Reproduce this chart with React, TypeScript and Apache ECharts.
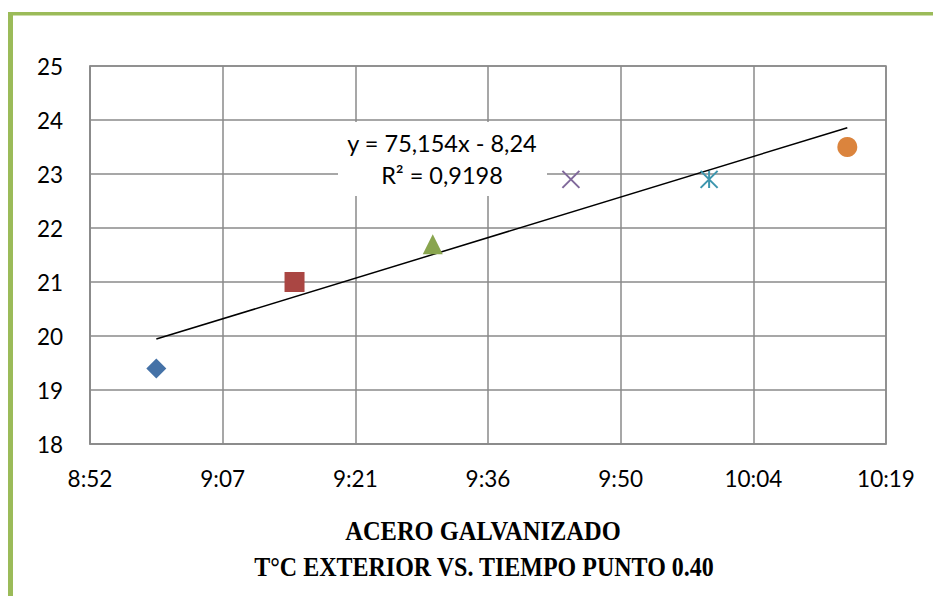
import React, { useEffect, useRef } from "react";
import * as echarts from "echarts";

const pointTimes = ["9:00", "9:15", "9:30", "9:45", "10:00", "10:15"];
const pointTemps = [19.4, 21.0, 21.7, 22.9, 22.9, 23.5];
const pointSymbols = [
  "diamond",
  "rect",
  "triangle",
  "path://M0,0L10,10M10,0L0,10",
  "path://M0,0L10,10M10,0L0,10M5,0L5,10",
  "circle",
];
const pointColors = ["#4572A7", "#AA4643", "#89A54E", "#80699B", "#3D96AE", "#DB843D"];
const strokedSymbol = [false, false, false, true, true, false];

const xMin = 0.37;
const xMax = 0.43;
const xStep = 0.01;
const yMin = 18;
const yMax = 25;
const yStep = 1;

const equationText = "y = 75,154x - 8,24";
const r2Text = "R² = 0,9198";
const titleLine1 = "ACERO GALVANIZADO";
const titleLine2 = "T°C EXTERIOR VS. TIEMPO PUNTO 0.40";

const toDay = (s: string) => {
  const [h, m] = s.split(":").map(Number);
  return (h * 60 + m) / 1440;
};

const fmtTime = (v: number) => {
  const mins = Math.floor(v * 1440 + 1e-6);
  const h = Math.floor(mins / 60);
  const m = mins % 60;
  return `${h}:${m < 10 ? "0" : ""}${m}`;
};

export default function App() {
  const ref = useRef<HTMLDivElement>(null);
  useEffect(() => {
    if (!ref.current) return;
    const chart = echarts.init(ref.current, undefined, { renderer: "svg" });
    const xs = pointTimes.map(toDay);
    const n = xs.length;
    const mx = xs.reduce((a, b) => a + b, 0) / n;
    const my = pointTemps.reduce((a, b) => a + b, 0) / n;
    let sxy = 0,
      sxx = 0;
    xs.forEach((x, i) => {
      sxy += (x - mx) * (pointTemps[i] - my);
      sxx += (x - mx) * (x - mx);
    });
    const slope = sxy / sxx;
    const icpt = my - slope * mx;
    const x0 = xs[0];
    const x1 = xs[n - 1];

    const pointSeries = xs.map((x, i) => ({
      type: "scatter",
      name: pointTimes[i],
      data: [[x, pointTemps[i]]],
      symbol: pointSymbols[i],
      symbolSize: strokedSymbol[i] ? 17 : 20,
      symbolKeepAspect: true,
      itemStyle: strokedSymbol[i]
        ? { color: "rgba(0,0,0,0)", borderColor: pointColors[i], borderWidth: 2, opacity: 1 }
        : { color: pointColors[i], opacity: 1 },
      z: 3,
    }));

    const labelFont = { fontFamily: "Lato", fontSize: 22.5, color: "#000" };

    chart.setOption({
      animation: false,
      grid: {
        left: 90,
        top: 66,
        right: 47,
        bottom: 152,
        show: true,
        borderColor: "#8a8a8a",
        borderWidth: 1.5,
      },
      xAxis: {
        type: "value",
        min: xMin,
        max: xMax,
        interval: xStep,
        axisLine: { show: true, lineStyle: { color: "#8a8a8a", width: 1.5 } },
        axisTick: { show: false },
        splitLine: { show: true, lineStyle: { color: "#8a8a8a", width: 1.5 } },
        axisLabel: {
          ...labelFont,
          margin: 23,
          lineHeight: 22,
          formatter: (v: number) => fmtTime(v),
        },
      },
      yAxis: {
        type: "value",
        min: yMin,
        max: yMax,
        interval: yStep,
        axisLine: { show: true, lineStyle: { color: "#8a8a8a", width: 1.5 } },
        axisTick: { show: false },
        splitLine: { show: true, lineStyle: { color: "#8a8a8a", width: 1.5 } },
        axisLabel: { ...labelFont, margin: 27 },
      },
      series: [
        {
          type: "line",
          name: "Lineal",
          data: [
            [x0, slope * x0 + icpt],
            [x1, slope * x1 + icpt],
          ],
          symbol: "none",
          lineStyle: { color: "#000", width: 1.5 },
          z: 2,
        },
        ...pointSeries,
      ],
      graphic: [
        { type: "rect", shape: { x: 8, y: 12, width: 5, height: 600 }, style: { fill: "#9BBB59" } },
        { type: "rect", shape: { x: 8, y: 12, width: 930, height: 3.5 }, style: { fill: "#9BBB59" } },
        {
          type: "rect",
          shape: { x: 338, y: 122, width: 209, height: 74 },
          style: { fill: "#fff" },
          z: 10,
        },
        {
          type: "text",
          x: 442,
          y: 143,
          z: 11,
          style: {
            text: equationText,
            fontFamily: "Lato",
            fontSize: 23.5,
            fill: "#000",
            align: "center",
            verticalAlign: "middle",
          },
        },
        {
          type: "text",
          x: 442,
          y: 175,
          z: 11,
          style: {
            text: r2Text,
            fontFamily: "Lato",
            fontSize: 23.5,
            fill: "#000",
            align: "center",
            verticalAlign: "middle",
          },
        },
        {
          type: "text",
          x: 483,
          y: 530,
          scaleY: 1.15,
          style: {
            text: titleLine1,
            fontFamily: "Liberation Serif",
            fontWeight: "bold",
            fontSize: 24.5,
            fill: "#000",
            align: "center",
            verticalAlign: "middle",
          },
        },
        {
          type: "text",
          x: 484,
          y: 567,
          scaleY: 1.15,
          style: {
            text: titleLine2,
            fontFamily: "Liberation Serif",
            fontWeight: "bold",
            fontSize: 24,
            fill: "#000",
            align: "center",
            verticalAlign: "middle",
          },
        },
      ],
    });
    return () => chart.dispose();
  }, []);
  return (
    <div
      ref={ref}
      style={{ position: "absolute", left: 0, top: 0, width: 933, height: 596, background: "#fff" }}
    />
  );
}
